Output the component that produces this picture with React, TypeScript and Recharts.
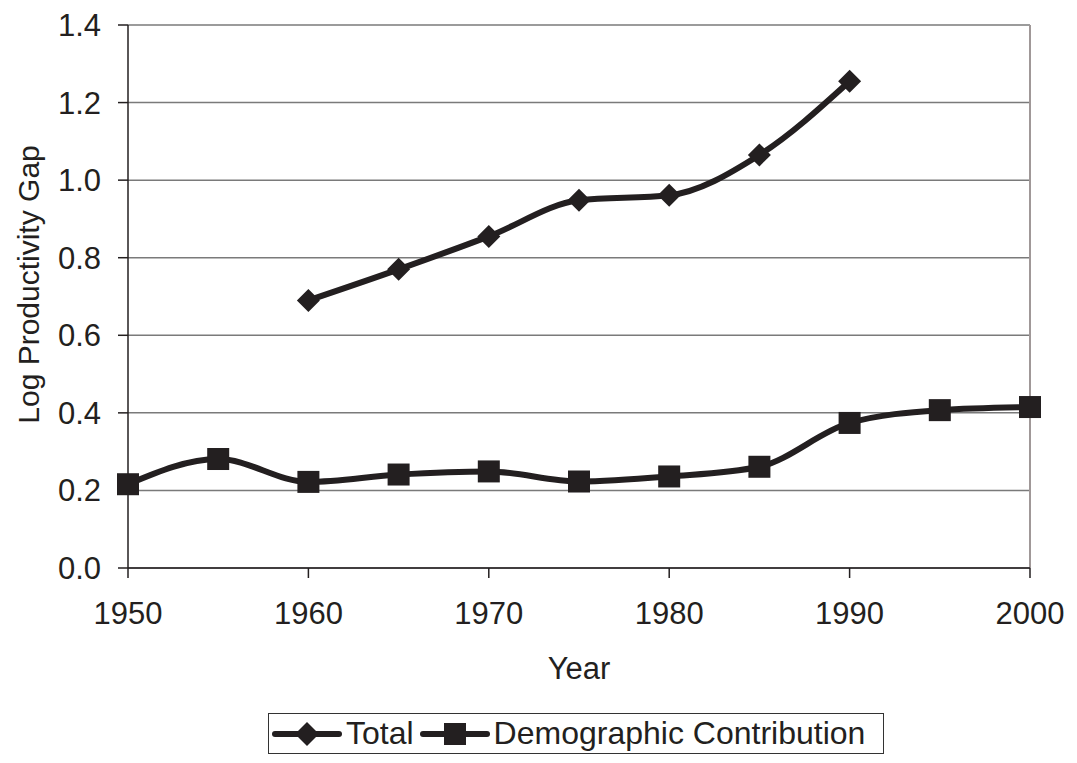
import { CartesianGrid, Line, LineChart, ReferenceLine, XAxis, YAxis } from "recharts";

const years = [1950, 1955, 1960, 1965, 1970, 1975, 1980, 1985, 1990, 1995, 2000];
const total = [null, null, 0.69, 0.77, 0.855, 0.948, 0.961, 1.065, 1.255, null, null];
const demographic = [0.216, 0.281, 0.222, 0.241, 0.249, 0.223, 0.236, 0.261, 0.374, 0.407, 0.415];
const xTicks = [1950, 1960, 1970, 1980, 1990, 2000];
const yTicks = [0, 0.2, 0.4, 0.6, 0.8, 1.0, 1.2, 1.4];

const data = years.map((year, i) => ({ year, total: total[i], demographic: demographic[i] }));

const INK = "#231f20";
const FONT = "'Liberation Sans', Arial, sans-serif";

interface DotProps {
  cx?: number;
  cy?: number;
  index?: number;
}

function Diamond({ cx, cy, index }: DotProps) {
  if (cx == null || cy == null || Number.isNaN(cy)) return <g key={index} />;
  const r = 11.5;
  return (
    <polygon
      key={index}
      points={`${cx},${cy - r} ${cx + r},${cy} ${cx},${cy + r} ${cx - r},${cy}`}
      fill={INK}
    />
  );
}

function Square({ cx, cy, index }: DotProps) {
  if (cx == null || cy == null) return <g key={index} />;
  const s = 11;
  return <rect key={index} x={cx - s} y={cy - s} width={s * 2} height={s * 2} fill={INK} />;
}

interface LabelProps {
  viewBox?: { x: number; y: number; width: number; height: number };
}

// y-axis title sits a little above the plot's middle in the original
function YTitle({ viewBox }: LabelProps) {
  if (!viewBox) return null;
  const x = viewBox.x - 30;
  const y = viewBox.y + viewBox.height / 2 - 12;
  return (
    <text
      x={x}
      y={y}
      transform={`rotate(-90, ${x}, ${y})`}
      textAnchor="middle"
      dominantBaseline="central"
      fontSize={30}
      fontFamily={FONT}
      fill={INK}
    >
      Log Productivity Gap
    </text>
  );
}

function LegendBox() {
  return (
    <div
      style={{
        position: "absolute",
        left: 268,
        top: 713,
        width: 616,
        height: 41,
        boxSizing: "border-box",
        display: "flex",
        alignItems: "center",
        border: "1.5px solid #333",
        paddingLeft: 3,
        fontFamily: FONT,
        fontSize: 32,
        color: INK,
        background: "#fff",
        whiteSpace: "nowrap",
      }}
    >
      <svg width={70} height={26} style={{ marginRight: 4 }}>
        <line x1={3} y1={13} x2={67} y2={13} stroke={INK} strokeWidth={6} strokeLinecap="round" />
        <polygon points="35,1 47,13 35,25 23,13" fill={INK} />
      </svg>
      <span style={{ marginRight: 6 }}>Total</span>
      <svg width={70} height={26} style={{ marginRight: 4 }}>
        <line x1={3} y1={13} x2={67} y2={13} stroke={INK} strokeWidth={6} strokeLinecap="round" />
        <rect x={24} y={2} width={22} height={22} fill={INK} />
      </svg>
      <span>Demographic Contribution</span>
    </div>
  );
}

export default function App() {
  return (
    <div style={{ margin: -8, width: 1077, height: 763, background: "#fff", position: "relative" }}>
      <LineChart
        width={1077}
        height={763}
        data={data}
        margin={{ top: 25, right: 47, left: 58, bottom: 80 }}
      >
        <CartesianGrid vertical={false} stroke="#7a7a7a" strokeWidth={1.5} />
        <ReferenceLine x={2000} stroke="#a09898" strokeWidth={2} />
        <XAxis
          dataKey="year"
          type="number"
          domain={[1950, 2000]}
          ticks={xTicks}
          interval={0}
          height={115}
          stroke={INK}
          strokeWidth={1.5}
          tickSize={10}
          tickMargin={24}
          tick={{ fontSize: 31, fill: INK, fontFamily: FONT }}
          label={{ value: "Year", position: "insideBottom", offset: 4, fontSize: 31, fill: INK, fontFamily: FONT }}
        />
        <YAxis
          domain={[0, 1.4]}
          ticks={yTicks}
          interval={0}
          width={70}
          stroke={INK}
          strokeWidth={1.5}
          tickSize={10}
          tickMargin={17}
          tickFormatter={(v: number) => v.toFixed(1)}
          tick={{ fontSize: 31, fill: INK, fontFamily: FONT }}
          label={<YTitle />}
        />
        <Line
          type="monotone"
          dataKey="total"
          stroke={INK}
          strokeWidth={6}
          dot={<Diamond />}
          activeDot={false}
          connectNulls={false}
          isAnimationActive={false}
        />
        <Line
          type="monotone"
          dataKey="demographic"
          stroke={INK}
          strokeWidth={6}
          dot={<Square />}
          activeDot={false}
          isAnimationActive={false}
        />
      </LineChart>
      <LegendBox />
    </div>
  );
}
